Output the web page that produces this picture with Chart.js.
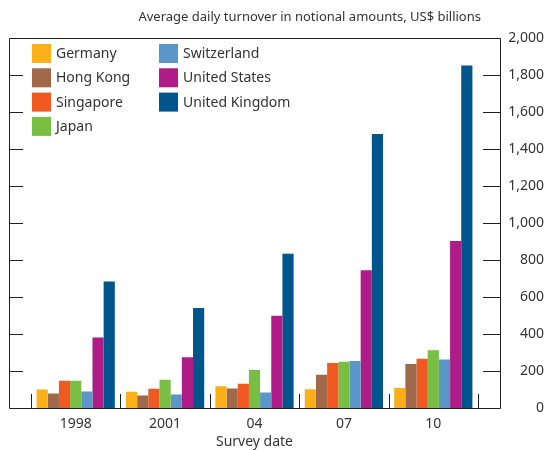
<!DOCTYPE html>
<html>
<head>
<meta charset="utf-8">
<script src="https://cdn.jsdelivr.net/npm/chart.js@4/dist/chart.umd.min.js"></script>
<style>
  html, body { margin: 0; padding: 0; background: #fff; }
</style>
</head>
<body>
<canvas id="chart" width="544" height="450"></canvas>
<script>
// Survey dates and turnover by country (US$ billions)
const surveyDates = ['1998', '2001', '04', '07', '10'];
const germany     = [100, 88, 118, 101, 108];
const hongKong    = [79, 67, 106, 180, 238];
const singapore   = [147, 104, 131, 243, 266];
const japan       = [147, 153, 206, 250, 312];
const switzerland = [89, 73, 84, 254, 262];
const unitedStates = [381, 275, 499, 745, 904];
const unitedKingdom = [685, 541, 835, 1483, 1854];
const yTicks = [0, 200, 400, 600, 800, 1000, 1200, 1400, 1600, 1800, 2000];

const titleText = 'Average daily turnover in notional amounts, US$ billions';
const FONT = '"Noto Sans", sans-serif';
const INK = '#333333';
const LINE = '#231f20';

// frame, inner tick marks, title and legend
const framePlugin = {
  id: 'frame',
  afterDraw(chart) {
    const ctx = chart.ctx;
    const x = chart.scales.x, y = chart.scales.y;
    const left = 9, right = 500, top = y.getPixelForValue(2000), bottom = y.getPixelForValue(0);
    ctx.save();
    ctx.strokeStyle = LINE;
    ctx.lineWidth = 1;
    ctx.beginPath();
    ctx.rect(left + 0.5, Math.round(top) + 0.5, right - left, Math.round(bottom - top));
    // horizontal tick marks on both sides
    yTicks.slice(1, -1).forEach(v => {
      const py = Math.round(y.getPixelForValue(v)) + 0.5;
      ctx.moveTo(left, py); ctx.lineTo(left + 14, py);
      ctx.moveTo(right - 17, py); ctx.lineTo(right, py);
    });
    // category separators
    const n = surveyDates.length;
    const w = (x.right - x.left) / n;
    for (let i = 0; i <= n; i++) {
      const px = Math.round(x.left + i * w) + 0.5;
      ctx.moveTo(px, bottom); ctx.lineTo(px, bottom - 14);
    }
    ctx.stroke();

    // title
    ctx.fillStyle = INK;
    ctx.font = '13px ' + FONT;
    ctx.textAlign = 'right';
    ctx.textBaseline = 'middle';
    ctx.fillText(titleText, 481, 17);

    // legend in two columns
    ctx.font = '14px ' + FONT;
    ctx.textAlign = 'left';
    chart.data.datasets.forEach((ds, i) => {
      const col = i < 4 ? 0 : 1;
      const row = i < 4 ? i : i - 4;
      const sx = col === 0 ? 32 : 159;
      const sy = 44 + row * 24.3;
      ctx.fillStyle = ds.backgroundColor;
      ctx.fillRect(sx, sy, 19, 19);
      ctx.fillStyle = INK;
      ctx.fillText(ds.label, sx + 24, sy + 10);
    });
    ctx.restore();
  }
};

const names = ['Germany', 'Hong Kong', 'Singapore', 'Japan', 'Switzerland', 'United States', 'United Kingdom'];
const colors = ['#fbb01a', '#a0694a', '#f05a22', '#78be43', '#5a96c8', '#b01c87', '#00558c'];
const series = [germany, hongKong, singapore, japan, switzerland, unitedStates, unitedKingdom];

new Chart(document.getElementById('chart'), {
  type: 'bar',
  data: {
    labels: surveyDates,
    datasets: series.map((d, i) => ({
      label: names[i],
      data: d,
      backgroundColor: colors[i],
      borderWidth: 0,
      categoryPercentage: 0.875,
      barPercentage: 1.0
    }))
  },
  options: {
    responsive: false,
    animation: false,
    devicePixelRatio: 1,
    layout: { padding: { left: 31, top: 32, right: 0, bottom: 0 } },
    plugins: {
      legend: { display: false },
      tooltip: { enabled: false }
    },
    scales: {
      x: {
        grid: { display: false, drawTicks: false },
        border: { display: false },
        ticks: { color: INK, font: { family: FONT, size: 14 }, padding: 8 },
        title: {
          display: true, text: 'Survey date', color: INK,
          font: { family: FONT, size: 14 }, padding: { top: 2, bottom: 0 }
        },
        afterFit(scale) { scale.height = 42; }
      },
      y: {
        position: 'right',
        min: 0, max: 2000,
        grid: { display: false, drawTicks: false },
        border: { display: false },
        ticks: {
          stepSize: 200,
          color: INK,
          font: { family: FONT, size: 14 },
          crossAlign: 'far',
          padding: 30,
          callback: v => v.toLocaleString('en-US')
        },
        afterFit(scale) { scale.width = 66; }
      }
    }
  },
  plugins: [framePlugin]
});
</script>
</body>
</html>
